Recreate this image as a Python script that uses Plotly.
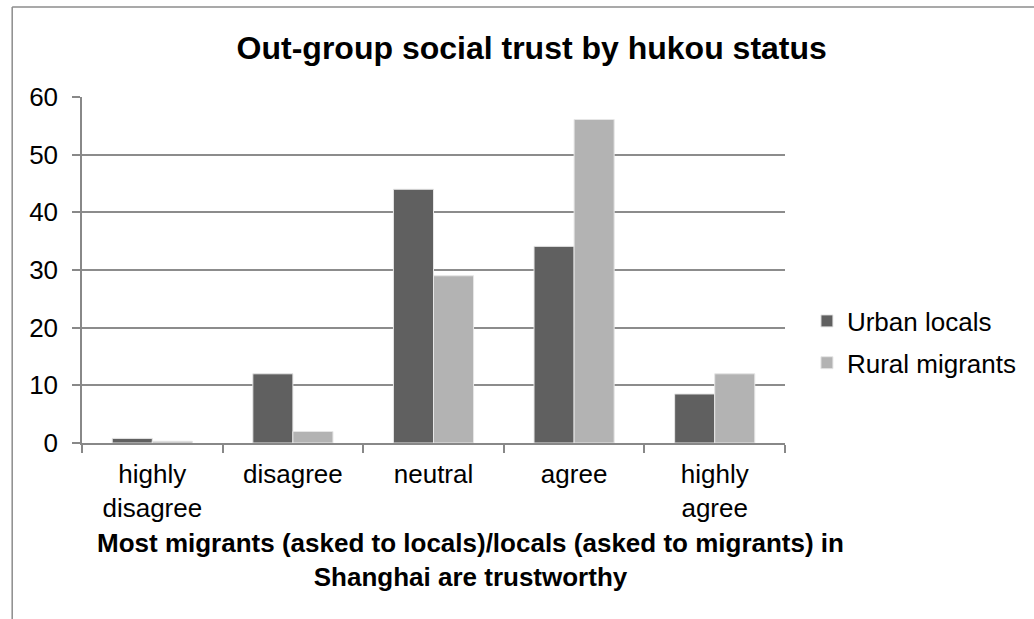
import plotly.graph_objects as go

categories = ["highly<br>disagree", "disagree", "neutral", "agree", "highly<br>agree"]
urban_locals = [0.8, 12.0, 44.0, 34.1, 8.5]
rural_migrants = [0.3, 2.0, 29.0, 56.1, 12.0]
y_ticks = [0, 10, 20, 30, 40, 50, 60]

W, H = 1034, 619
L, R, T, B = 82, 247, 97, 176
pw, ph = W - L - R, H - T - B

def px_x(x):
    return (x - L) / pw

def px_y(y):
    return (H - B - y) / ph

font = "Liberation Sans, Arial, sans-serif"

fig = go.Figure()
fig.add_trace(go.Bar(x=categories, y=urban_locals, name="Urban locals",
                     legendgroup="urban",
                     marker=dict(color="#606060", line=dict(color="#e6e6e6", width=1))))
fig.add_trace(go.Bar(x=categories, y=rural_migrants, name="Rural migrants",
                     legendgroup="rural",
                     marker=dict(color="#b3b3b3", line=dict(color="#e6e6e6", width=1))))

fig.update_layout(
    width=W, height=H,
    margin=dict(l=L, r=R, t=T, b=B),
    paper_bgcolor="white", plot_bgcolor="white",
    barmode="group", bargap=0.43, bargroupgap=0,
    font=dict(family=font, size=26, color="black"),
    title=dict(text="<b>Out-group social trust by hukou status</b>",
               x=px_x(533), xref="paper", xanchor="center",
               y=1 - 48 / H, yanchor="middle",
               font=dict(size=32, family=font)),
    showlegend=True,
    legend=dict(x=px_x(809), y=px_y(342), xanchor="left", yanchor="middle",
                font=dict(size=26), itemwidth=30,
                traceorder="grouped", tracegroupgap=5,
                bgcolor="rgba(0,0,0,0)"),
    xaxis=dict(showline=True, linecolor="#888888", linewidth=1.5,
               ticks="outside", ticklen=8, tickcolor="#888888", tickwidth=1.5,
               tickson="boundaries", showgrid=False,
               tickfont=dict(size=26), ticklabelstandoff=7),
    yaxis=dict(range=[0, 60], tickvals=y_ticks, showline=True,
               linecolor="#888888", linewidth=1.5,
               ticks="outside", ticklen=8, tickcolor="#888888", tickwidth=1.5,
               showgrid=True, gridcolor="#8c8c8c", gridwidth=1.5,
               zeroline=False, tickfont=dict(size=26), ticklabelstandoff=9),
)

fig.add_annotation(
    text="<b>Most migrants (asked to locals)/locals (asked to migrants) in<br>Shanghai are trustworthy</b>",
    xref="paper", yref="paper", x=px_x(472), y=px_y(560),
    xanchor="center", yanchor="middle", showarrow=False,
    font=dict(size=26, family=font), align="center")

# outer chart border (left and top edges)
fig.add_shape(type="line", xref="paper", yref="paper",
              x0=px_x(12), x1=px_x(12), y0=px_y(7), y1=px_y(H + 5),
              line=dict(color="#8c8c8c", width=1.5))
fig.add_shape(type="line", xref="paper", yref="paper",
              x0=px_x(12), x1=px_x(W + 5), y0=px_y(7), y1=px_y(7),
              line=dict(color="#8c8c8c", width=1.5))

fig.write_html("out.html")
